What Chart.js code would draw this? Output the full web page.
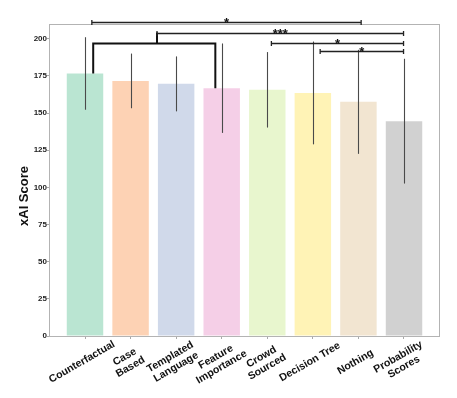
<!DOCTYPE html>
<html>
<head>
<meta charset="utf-8">
<script src="https://cdn.jsdelivr.net/npm/chart.js@4"></script>
<style>
  html, body { margin: 0; padding: 0; background: #fff; }
  #wrap { width: 457px; height: 398px; }
</style>
</head>
<body>
<div id="wrap"><canvas id="chart"></canvas></div>
<script>
// categories (multi-line tick labels)
const labels = [
  ['Counterfactual'], ['Case', 'Based'], ['Templated', 'Language'], ['Feature', 'Importance'],
  ['Crowd', 'Sourced'], ['Decision Tree'], ['Nothing'], ['Probability', 'Scores']
];
const scores = [176.7, 171.7, 169.7, 166.8, 165.7, 163.6, 157.6, 144.6];
const errors = [24.4, 18.4, 18.5, 30.1, 25.4, 34.6, 35.0, 42.0];
const yTicks = [0, 25, 50, 75, 100, 125, 150, 175, 200];
const barColors = [
  'rgba(179,226,205,0.9)', 'rgba(253,205,172,0.9)', 'rgba(203,213,232,0.9)', 'rgba(244,202,228,0.9)',
  'rgba(230,245,201,0.9)', 'rgba(255,242,174,0.9)', 'rgba(241,226,204,0.9)', 'rgba(204,204,204,0.9)'
];

// significance brackets, in category / score units
const sigFrom = [0.15, 1.58, 4.09, 5.16];
const sigTo   = [6.06, 6.99, 6.99, 6.99];
const sigAt   = [211.2, 204.2, 197.5, 191.9];
const sigText = ['*', '***', '*', '*'];
// group bracket over Counterfactual .. Feature Importance
const groupFrom = 0.18, groupTo = 2.86, groupMid = 1.58, groupAt = 196.8;

const FONT = "'Liberation Sans', Arial, sans-serif";

const overlay = {
  id: 'overlay',
  afterDatasetsDraw(chart) {
    const { ctx, chartArea: a, scales: { x, y } } = chart;
    ctx.save();

    // frame round the plot
    ctx.strokeStyle = '#b3b3b3';
    ctx.lineWidth = 1;
    ctx.strokeRect(a.left + 0.5, a.top + 0.5, a.right - a.left - 1, a.bottom - a.top);

    // error bars (no caps)
    ctx.strokeStyle = '#4a4a4a';
    ctx.lineWidth = 1.1;
    scores.forEach((v, i) => {
      const px = Math.round(x.getPixelForValue(i)) + 0.5;
      ctx.beginPath();
      ctx.moveTo(px, y.getPixelForValue(v - errors[i]));
      ctx.lineTo(px, y.getPixelForValue(v + errors[i]));
      ctx.stroke();
    });

    // group bracket
    ctx.strokeStyle = '#111';
    ctx.lineWidth = 2;
    const gy = y.getPixelForValue(groupAt);
    ctx.beginPath();
    ctx.moveTo(x.getPixelForValue(groupFrom), y.getPixelForValue(scores[0]));
    ctx.lineTo(x.getPixelForValue(groupFrom), gy);
    ctx.lineTo(x.getPixelForValue(groupTo), gy);
    ctx.lineTo(x.getPixelForValue(groupTo), y.getPixelForValue(scores[3]));
    ctx.moveTo(x.getPixelForValue(groupMid), gy);
    ctx.lineTo(x.getPixelForValue(groupMid), y.getPixelForValue(sigAt[1]));
    ctx.stroke();

    // significance lines with small end caps
    ctx.lineWidth = 1.3;
    ctx.strokeStyle = '#222';
    ctx.fillStyle = '#111';
    ctx.font = `bold 13px ${FONT}`;
    ctx.textAlign = 'center';
    ctx.textBaseline = 'alphabetic';
    sigAt.forEach((v, k) => {
      const x1 = x.getPixelForValue(sigFrom[k]);
      const x2 = x.getPixelForValue(sigTo[k]);
      const py = Math.round(y.getPixelForValue(v)) + 0.5;
      ctx.beginPath();
      ctx.moveTo(x1, py); ctx.lineTo(x2, py);
      ctx.moveTo(x1, py - 2.5); ctx.lineTo(x1, py + 2.5);
      ctx.moveTo(x2, py - 2.5); ctx.lineTo(x2, py + 2.5);
      ctx.stroke();
      ctx.fillText(sigText[k], (x1 + x2) / 2, py + 4);
    });

    // x tick labels, rotated 30 degrees, centred
    ctx.fillStyle = '#111';
    ctx.font = `bold 10.5px ${FONT}`;
    ctx.textBaseline = 'middle';
    labels.forEach((lines, i) => {
      ctx.save();
      ctx.translate(x.getPixelForValue(i) - 3, 362);
      ctx.rotate(-Math.PI / 6);
      lines.forEach((t, k) => ctx.fillText(t, 0, (k - (lines.length - 1) / 2) * 11.5));
      ctx.restore();
    });

    // y axis title
    ctx.save();
    ctx.font = `bold 13px ${FONT}`;
    ctx.translate(24, 196);
    ctx.rotate(-Math.PI / 2);
    ctx.fillText('xAI Score', 0, 0);
    ctx.restore();

    ctx.restore();
  }
};

new Chart(document.getElementById('chart'), {
  type: 'bar',
  data: {
    datasets: [{
      data: scores.map((v, i) => ({ x: i, y: v })),
      backgroundColor: barColors,
      borderWidth: 0,
      categoryPercentage: 1,
      barPercentage: 0.8
    }]
  },
  options: {
    responsive: true,
    maintainAspectRatio: false,
    animation: false,
    layout: { padding: { top: 24, right: 17, left: 0, bottom: 0 } },
    plugins: { legend: { display: false }, tooltip: { enabled: false } },
    scales: {
      x: {
        type: 'linear',
        min: -0.79,
        max: 7.79,
        offset: false,
        border: { display: false },
        grid: { offset: false, drawOnChartArea: false, tickLength: 3, color: '#aaa' },
        ticks: { display: false },
        afterBuildTicks: s => { s.ticks = labels.map((_, i) => ({ value: i })); },
        afterFit: s => { s.height = 62; }
      },
      y: {
        min: 0,
        max: 210,
        border: { display: false },
        grid: { drawOnChartArea: false, tickLength: 2, color: '#aaa' },
        ticks: {
          padding: 0,
          color: '#222',
          font: { family: FONT, size: 8, weight: 'bold' }
        },
        afterBuildTicks: s => { s.ticks = yTicks.map(v => ({ value: v })); },
        afterFit: s => { s.width = 49; }
      }
    }
  },
  plugins: [overlay]
});
</script>
</body>
</html>
